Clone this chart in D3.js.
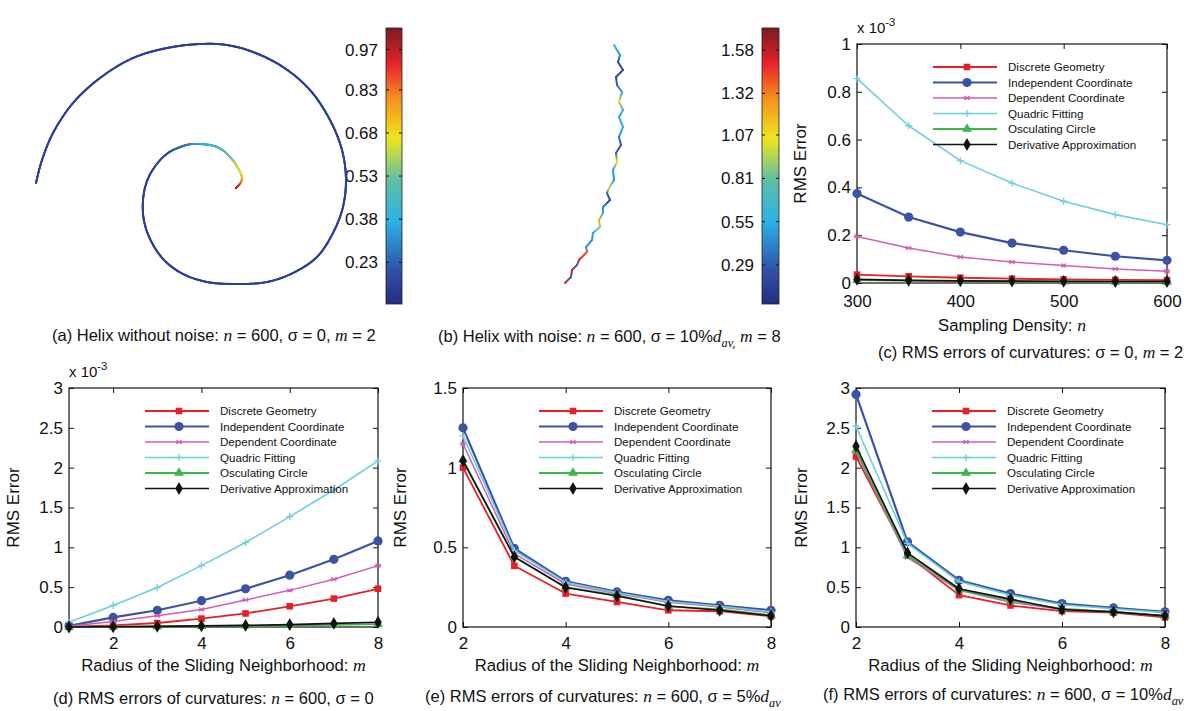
<!DOCTYPE html>
<html>
<head>
<meta charset="utf-8">
<script src="https://cdn.jsdelivr.net/npm/d3@7"></script>
<style>
  body { margin: 0; background: #fff; }
  svg text { white-space: pre; }
</style>
</head>
<body>
<svg id="fig" width="1188" height="711"></svg>
<script>
// ---------- data ----------
const methods = ["Discrete Geometry", "Independent Coordinate", "Dependent Coordinate",
                 "Quadric Fitting", "Osculating Circle", "Derivative Approximation"];

// (c) RMS error (x 1e-3) vs sampling density n, sigma = 0, m = 2
const densityN = [300, 350, 400, 450, 500, 550, 600];
const rmsDensity = [
  [0.035, 0.028, 0.022, 0.018, 0.015, 0.013, 0.012],
  [0.374, 0.276, 0.213, 0.167, 0.137, 0.112, 0.095],
  [0.195, 0.146, 0.109, 0.088, 0.073, 0.059, 0.049],
  [0.855, 0.658, 0.512, 0.418, 0.342, 0.286, 0.244],
  [0.012, 0.010, 0.008, 0.007, 0.006, 0.005, 0.005],
  [0.015, 0.011, 0.009, 0.008, 0.007, 0.006, 0.006]
];

// (d) RMS error (x 1e-3) vs radius m, n = 600, sigma = 0
const radiusD = [1, 2, 3, 4, 5, 6, 7, 8];
const rmsRadiusClean = [
  [0.003, 0.020, 0.050, 0.105, 0.170, 0.260, 0.357, 0.480],
  [0.015, 0.120, 0.210, 0.330, 0.480, 0.650, 0.850, 1.080],
  [0.010, 0.070, 0.140, 0.220, 0.340, 0.460, 0.600, 0.770],
  [0.060, 0.270, 0.495, 0.770, 1.060, 1.385, 1.720, 2.085],
  [0.000, 0.004, 0.008, 0.012, 0.017, 0.022, 0.028, 0.035],
  [0.000, 0.003, 0.008, 0.014, 0.020, 0.030, 0.045, 0.060]
];

// (e) RMS error vs radius m, n = 600, sigma = 5% d_av
const radiusM = [2, 3, 4, 5, 6, 7, 8];
const rmsRadius5 = [
  [1.000, 0.384, 0.210, 0.157, 0.105, 0.099, 0.067],
  [1.250, 0.493, 0.287, 0.220, 0.168, 0.136, 0.105],
  [1.150, 0.460, 0.270, 0.210, 0.155, 0.125, 0.090],
  [1.200, 0.480, 0.280, 0.215, 0.160, 0.130, 0.095],
  [1.050, 0.440, 0.250, 0.200, 0.130, 0.110, 0.075],
  [1.043, 0.440, 0.248, 0.195, 0.132, 0.105, 0.071]
];

// (f) RMS error vs radius m, n = 600, sigma = 10% d_av
const rmsRadius10 = [
  [2.14, 0.90, 0.400, 0.27, 0.200, 0.18, 0.12],
  [2.92, 1.07, 0.587, 0.42, 0.294, 0.24, 0.19],
  [2.20, 0.87, 0.460, 0.31, 0.220, 0.19, 0.14],
  [2.52, 1.05, 0.570, 0.40, 0.280, 0.23, 0.18],
  [2.22, 0.90, 0.470, 0.33, 0.230, 0.19, 0.14],
  [2.27, 0.93, 0.480, 0.35, 0.220, 0.19, 0.14]
];

// tick values
const ticksDensity = [300, 400, 500, 600];
const ticksRadius = [2, 4, 6, 8];
const ticksErr1 = [0, 0.2, 0.4, 0.6, 0.8, 1];
const ticksErr3 = [0, 0.5, 1, 1.5, 2, 2.5, 3];
const ticksErr15 = [0, 0.5, 1, 1.5];

// colour bar ranges and ticks (curvature)
const curvRangeA = [0.085, 1.045];
const curvTicksA = [0.23, 0.38, 0.53, 0.68, 0.83, 0.97];
const curvRangeB = [0.056, 1.712];
const curvTicksB = [0.29, 0.55, 0.81, 1.07, 1.32, 1.58];

// (a) clean helix, projected: [x, y, curvature]
const helixClean = [
  [-2.00, 0.05, 0.15], [-1.94, 0.28, 0.15], [-1.83, 0.55, 0.15], [-1.63, 0.85, 0.15],
  [-1.36, 1.10, 0.15], [-1.03, 1.30, 0.15], [-0.69, 1.40, 0.15], [-0.36, 1.44, 0.15],
  [-0.09, 1.43, 0.15], [0.17, 1.36, 0.15], [0.47, 1.21, 0.15], [0.74, 0.98, 0.15],
  [0.94, 0.68, 0.15], [1.06, 0.38, 0.15], [1.10, 0.08, 0.15], [1.07, -0.19, 0.15],
  [0.97, -0.45, 0.15], [0.81, -0.69, 0.15], [0.57, -0.85, 0.15], [0.31, -0.94, 0.15],
  [-0.03, -0.96, 0.15], [-0.29, -0.94, 0.15], [-0.53, -0.86, 0.15], [-0.72, -0.72, 0.15],
  [-0.85, -0.53, 0.15], [-0.92, -0.33, 0.15], [-0.93, -0.12, 0.15], [-0.89, 0.07, 0.15],
  [-0.80, 0.23, 0.16], [-0.68, 0.35, 0.19], [-0.53, 0.42, 0.25], [-0.44, 0.44, 0.30],
  [-0.36, 0.44, 0.35], [-0.26, 0.43, 0.39], [-0.19, 0.41, 0.43],
  [-0.12, 0.37, 0.48], [-0.06, 0.31, 0.54], [-0.01, 0.25, 0.59], [0.02, 0.20, 0.64],
  [0.05, 0.14, 0.68], [0.06, 0.10, 0.72], [0.05, 0.06, 0.81], [0.03, 0.03, 0.91],
  [0.00, 0.00, 1.00]
];

// (b) noisy helix, side view: [x, y, curvature]
const helixNoisy = [
  [0.14, 1.43, 0.55], [0.20, 1.33, 0.45], [0.18, 1.26, 0.20], [0.23, 1.18, 0.25],
  [0.16, 1.11, 0.20], [0.17, 1.03, 0.30], [0.22, 0.96, 0.50], [0.19, 0.86, 1.10],
  [0.23, 0.78, 0.60], [0.19, 0.71, 0.50], [0.23, 0.61, 0.55], [0.19, 0.51, 0.40],
  [0.21, 0.43, 0.25], [0.16, 0.35, 0.30], [0.17, 0.26, 1.05], [0.13, 0.18, 0.50],
  [0.14, 0.08, 0.45], [0.09, 0.00, 1.00], [0.07, -0.05, 0.35], [0.10, -0.12, 0.20],
  [0.03, -0.19, 0.40], [0.03, -0.25, 0.55], [-0.01, -0.32, 1.20], [0.00, -0.39, 0.90],
  [-0.07, -0.45, 0.55], [-0.08, -0.52, 0.45], [-0.14, -0.59, 0.50], [-0.13, -0.64, 1.40],
  [-0.21, -0.72, 1.55], [-0.23, -0.77, 0.30], [-0.28, -0.82, 1.55], [-0.29, -0.89, 0.30],
  [-0.35, -0.95, 1.55]
];

// ---------- styling ----------
const SANS = "'Liberation Sans', Arial, Helvetica, sans-serif";
const SERIF = "'Liberation Serif', 'Times New Roman', serif";
const seriesColor = ["#e32127", "#3a53a4", "#cf5fb5", "#6ccfe0", "#3fb44a", "#111111"];
const seriesWidth = [1.8, 2.2, 1.5, 1.6, 1.8, 1.6];
const seriesMarker = ["square", "circle", "star", "plus", "triangle", "diamond"];

const jet = d3.scaleLinear()
  .domain([0, 0.12, 0.3, 0.45, 0.6, 0.74, 0.87, 1])
  .range(["#262c82", "#3050a6", "#29b3e6", "#5fbfa4", "#eee51d", "#f7931e", "#e6232a", "#7b1b1f"])
  .clamp(true);

const svg = d3.select("#fig");
const defs = svg.append("defs");

// ---------- helpers ----------
function richText(x, y, parts, opts = {}) {
  const size = opts.size || 16;
  const t = svg.append("text")
    .attr("x", x).attr("y", y)
    .attr("font-family", SANS).attr("font-size", size)
    .attr("text-anchor", opts.anchor || "start")
    .attr("fill", "#111");
  if (opts.rotate) t.attr("transform", `rotate(${opts.rotate},${x},${y})`);
  let shift = 0;
  parts.forEach(p => {
    if (typeof p === "string") p = { t: p };
    const ts = t.append("tspan").text(p.t);
    const target = p.sub ? size * 0.32 : (p.sup ? -size * 0.5 : 0);
    if (target !== shift) { ts.attr("dy", target - shift); shift = target; }
    if (p.it) ts.attr("font-family", SERIF).attr("font-style", "italic").attr("font-size", size * 1.06);
    if (p.sub || p.sup) ts.attr("font-size", size * 0.75);
  });
  return t;
}

function drawMarker(g, type, cx, cy, color) {
  switch (type) {
    case "square":
      g.append("rect").attr("x", cx - 3.3).attr("y", cy - 3.3)
        .attr("width", 6.6).attr("height", 6.6).attr("fill", color);
      break;
    case "circle":
      g.append("circle").attr("cx", cx).attr("cy", cy).attr("r", 4.6).attr("fill", color);
      break;
    case "triangle":
      g.append("path").attr("d", d3.symbol(d3.symbolTriangle, 42)())
        .attr("transform", `translate(${cx},${cy})`).attr("fill", color);
      break;
    case "diamond":
      g.append("path").attr("d", d3.symbol(d3.symbolDiamond, 48)())
        .attr("transform", `translate(${cx},${cy})`).attr("fill", color);
      break;
    case "plus":
      g.append("path").attr("d", `M${cx - 3.5},${cy}H${cx + 3.5}M${cx},${cy - 3.5}V${cy + 3.5}`)
        .attr("stroke", color).attr("stroke-width", 1.3).attr("fill", "none");
      break;
    case "star":
      g.append("path").attr("d", `M${cx - 3.5},${cy}H${cx + 3.5}M${cx - 2.5},${cy - 2}L${cx + 2.5},${cy + 2}M${cx - 2.5},${cy + 2}L${cx + 2.5},${cy - 2}`)
        .attr("stroke", color).attr("stroke-width", 1.1).attr("fill", "none");
      break;
  }
}

function styleAxis(sel) {
  sel.select(".domain").remove();
  sel.selectAll(".tick line").attr("stroke", "#111").attr("stroke-width", 1);
  sel.selectAll(".tick text").attr("font-family", SANS).attr("font-size", 17).attr("fill", "#111");
}

function linePanel(cfg) {
  const x = d3.scaleLinear().domain(cfg.xDomain).range([cfg.left, cfg.right]);
  const y = d3.scaleLinear().domain(cfg.yDomain).range([cfg.bottom, cfg.top]);
  const g = svg.append("g");

  g.append("g").attr("transform", `translate(0,${cfg.bottom})`)
    .call(d3.axisBottom(x).tickValues(cfg.xTicks).tickSizeInner(-5).tickSizeOuter(0)
      .tickPadding(cfg.xPad).tickFormat(d3.format("d")))
    .call(styleAxis);
  g.append("g").attr("transform", `translate(0,${cfg.top})`)
    .call(d3.axisTop(x).tickValues(cfg.xTicks).tickSizeInner(-5).tickSizeOuter(0).tickFormat(""))
    .call(styleAxis);
  g.append("g").attr("transform", `translate(${cfg.left},0)`)
    .call(d3.axisLeft(y).tickValues(cfg.yTicks).tickSizeInner(-5).tickSizeOuter(0)
      .tickPadding(6).tickFormat(d => String(d)))
    .call(styleAxis);
  g.append("g").attr("transform", `translate(${cfg.right},0)`)
    .call(d3.axisRight(y).tickValues(cfg.yTicks).tickSizeInner(-5).tickSizeOuter(0).tickFormat(""))
    .call(styleAxis);

  g.append("rect").attr("x", cfg.left).attr("y", cfg.top)
    .attr("width", cfg.right - cfg.left).attr("height", cfg.bottom - cfg.top)
    .attr("fill", "none").attr("stroke", "#111").attr("stroke-width", 1.2);

  // series
  const line = d3.line().x((d, j) => x(cfg.xs[j])).y(d => y(d));
  cfg.series.forEach((vals, i) => {
    const sg = g.append("g");
    sg.append("path").attr("d", line(vals)).attr("fill", "none")
      .attr("stroke", seriesColor[i]).attr("stroke-width", seriesWidth[i])
      .attr("stroke-linejoin", "round");
    vals.forEach((v, j) => drawMarker(sg, seriesMarker[i], x(cfg.xs[j]), y(v), seriesColor[i]));
  });

  // legend
  const lg = g.append("g");
  methods.forEach((name, i) => {
    const ry = cfg.top + 23 + i * 15.5;
    lg.append("line").attr("x1", cfg.left + 76).attr("x2", cfg.left + 140)
      .attr("y1", ry).attr("y2", ry)
      .attr("stroke", seriesColor[i]).attr("stroke-width", seriesWidth[i]);
    drawMarker(lg, seriesMarker[i], cfg.left + 110, ry, seriesColor[i]);
    lg.append("text").attr("x", cfg.left + 151).attr("y", ry + 4)
      .attr("font-family", SANS).attr("font-size", 11.6).attr("fill", "#111").text(name);
  });

  // labels
  richText(cfg.yLabelX, (cfg.top + cfg.bottom) / 2, ["RMS Error"], { size: 17, anchor: "middle", rotate: -90 });
  richText((cfg.left + cfg.right) / 2, cfg.xTitleY, cfg.xTitle, { size: 16.7, anchor: "middle" });
  if (cfg.exponent) {
    richText(cfg.left, cfg.top - 11, ["x 10", { t: "-3", sup: true }], { size: 15 });
  }
  richText(cfg.captionX, cfg.captionY, cfg.caption, { size: 16.5 });
}

function colorBar(cfg) {
  const y = d3.scaleLinear().domain(cfg.range).range([cfg.bottom, cfg.top]);
  const id = "cb" + cfg.key;
  const grad = defs.append("linearGradient").attr("id", id)
    .attr("x1", 0).attr("y1", 1).attr("x2", 0).attr("y2", 0);
  d3.range(0, 1.0001, 0.02).forEach(t => {
    grad.append("stop").attr("offset", t).attr("stop-color", jet(t));
  });
  const g = svg.append("g");
  g.append("rect").attr("x", cfg.left).attr("y", cfg.top)
    .attr("width", cfg.width).attr("height", cfg.bottom - cfg.top)
    .attr("fill", `url(#${id})`).attr("stroke", "#222").attr("stroke-width", 0.8);
  cfg.ticks.forEach(v => {
    const ty = y(v);
    g.append("line").attr("x1", cfg.left).attr("x2", cfg.left + 3).attr("y1", ty).attr("y2", ty)
      .attr("stroke", "#111").attr("stroke-width", 1);
    g.append("line").attr("x1", cfg.left + cfg.width - 3).attr("x2", cfg.left + cfg.width)
      .attr("y1", ty).attr("y2", ty).attr("stroke", "#111").attr("stroke-width", 1);
    g.append("text").attr("x", cfg.left - 8).attr("y", ty).attr("dy", "0.35em")
      .attr("text-anchor", "end").attr("font-family", SANS).attr("font-size", 17)
      .attr("fill", "#111").text(v.toFixed(2));
  });
  return v => jet((v - cfg.range[0]) / (cfg.range[1] - cfg.range[0]));
}

// ---------- (a) clean helix ----------
const colorA = colorBar({ key: "a", range: curvRangeA, ticks: curvTicksA, left: 386, width: 16, top: 28, bottom: 304 });
{
  const sx = d3.scaleLinear().domain([-2, 1.5]).range([36, 386]);
  const sy = d3.scaleLinear().domain([-1, 1.5]).range([288, 38]);
  const g = svg.append("g");
  const spiral = d3.line().x(d => sx(d[0])).y(d => sy(d[1])).curve(d3.curveCatmullRom.alpha(0.5));
  const base = g.append("path").attr("d", spiral(helixClean)).attr("fill", "none")
    .attr("stroke", colorA(helixClean[0][2])).attr("stroke-width", 1.9).attr("stroke-linecap", "round");
  // colour the stroke by curvature along its length
  const node = base.node();
  const L = node.getTotalLength();
  const cum = [0];
  for (let i = 1; i < helixClean.length; i++) {
    const dx = sx(helixClean[i][0]) - sx(helixClean[i - 1][0]);
    const dy = sy(helixClean[i][1]) - sy(helixClean[i - 1][1]);
    cum.push(cum[i - 1] + Math.hypot(dx, dy));
  }
  const total = cum[cum.length - 1];
  const kAt = d3.scaleLinear().domain(cum.map(c => c / total * L)).range(helixClean.map(d => d[2]));
  const step = 1.5;
  for (let s = 0; s < L; s += step) {
    const p0 = node.getPointAtLength(s);
    const p1 = node.getPointAtLength(Math.min(s + step, L));
    g.append("line").attr("x1", p0.x).attr("y1", p0.y).attr("x2", p1.x).attr("y2", p1.y)
      .attr("stroke", colorA(kAt(s + step / 2))).attr("stroke-width", 1.9).attr("stroke-linecap", "round");
  }
}
richText(52, 341, ["(a) Helix without noise: ", { t: "n", it: true }, " = 600, σ = 0, ", { t: "m", it: true }, " = 2"], { size: 16.5 });

// ---------- (b) noisy helix ----------
const colorB = colorBar({ key: "b", range: curvRangeB, ticks: curvTicksB, left: 762, width: 17, top: 28, bottom: 304 });
{
  const nx = d3.scaleLinear().domain([-0.4, 0.3]).range([560, 630]);
  const ny = d3.scaleLinear().domain([-1, 1.5]).range([288, 38]);
  const g = svg.append("g");
  for (let i = 0; i < helixNoisy.length - 1; i++) {
    const a = helixNoisy[i], b = helixNoisy[i + 1];
    const gid = "seg" + i;
    const lg = defs.append("linearGradient").attr("id", gid).attr("gradientUnits", "userSpaceOnUse")
      .attr("x1", nx(a[0])).attr("y1", ny(a[1])).attr("x2", nx(b[0])).attr("y2", ny(b[1]));
    lg.append("stop").attr("offset", 0).attr("stop-color", colorB(a[2]));
    lg.append("stop").attr("offset", 1).attr("stop-color", colorB(b[2]));
    g.append("path").attr("d", d3.line().x(d => nx(d[0])).y(d => ny(d[1]))([a, b]))
      .attr("fill", "none").attr("stroke", `url(#${gid})`).attr("stroke-width", 2)
      .attr("stroke-linecap", "round");
  }
}
richText(438, 342, ["(b) Helix with noise: ", { t: "n", it: true }, " = 600, σ = 10%", { t: "d", it: true },
  { t: "av,", it: true, sub: true }, " ", { t: "m", it: true }, " = 8"], { size: 16.5 });

// ---------- (c) ----------
linePanel({
  left: 857, right: 1167, top: 44, bottom: 283,
  xDomain: [300, 600], yDomain: [0, 1], xTicks: ticksDensity, yTicks: ticksErr1,
  xs: densityN, series: rmsDensity, xPad: 12, yLabelX: 806, exponent: true,
  xTitle: ["Sampling Density: ", { t: "n", it: true }], xTitleY: 331,
  caption: ["(c) RMS errors of curvatures: σ = 0, ", { t: "m", it: true }, " = 2"], captionX: 878, captionY: 358
});

// ---------- (d) ----------
linePanel({
  left: 69, right: 378, top: 388, bottom: 627,
  xDomain: [1, 8], yDomain: [0, 3], xTicks: ticksRadius, yTicks: ticksErr3,
  xs: radiusD, series: rmsRadiusClean, xPad: 10, yLabelX: 19, exponent: true,
  xTitle: ["Radius of the Sliding Neighborhood: ", { t: "m", it: true }], xTitleY: 671,
  caption: ["(d) RMS errors of curvatures: ", { t: "n", it: true }, " = 600, σ = 0"], captionX: 53, captionY: 704
});

// ---------- (e) ----------
linePanel({
  left: 463, right: 771, top: 388, bottom: 627,
  xDomain: [2, 8], yDomain: [0, 1.5], xTicks: ticksRadius, yTicks: ticksErr15,
  xs: radiusM, series: rmsRadius5, xPad: 10, yLabelX: 406, exponent: false,
  xTitle: ["Radius of the Sliding Neighborhood: ", { t: "m", it: true }], xTitleY: 671,
  caption: ["(e) RMS errors of curvatures: ", { t: "n", it: true }, " = 600, σ = 5%", { t: "d", it: true }, { t: "av", it: true, sub: true }],
  captionX: 425, captionY: 702
});

// ---------- (f) ----------
linePanel({
  left: 856, right: 1165, top: 388, bottom: 627,
  xDomain: [2, 8], yDomain: [0, 3], xTicks: ticksRadius, yTicks: ticksErr3,
  xs: radiusM, series: rmsRadius10, xPad: 10, yLabelX: 807, exponent: false,
  xTitle: ["Radius of the Sliding Neighborhood: ", { t: "m", it: true }], xTitleY: 671,
  caption: ["(f) RMS errors of curvatures: ", { t: "n", it: true }, " = 600, σ = 10%", { t: "d", it: true }, { t: "av", it: true, sub: true }],
  captionX: 823, captionY: 700
});
</script>
</body>
</html>
